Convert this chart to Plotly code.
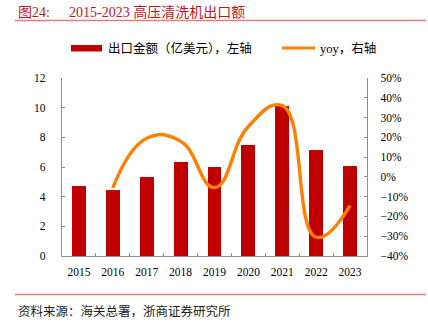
import plotly.graph_objects as go

years = ["2015", "2016", "2017", "2018", "2019", "2020", "2021", "2022", "2023"]
export_value = [4.70, 4.47, 5.35, 6.32, 5.98, 7.48, 10.11, 7.13, 6.09]
yoy_years = ["2016", "2017", "2018", "2019", "2020", "2021", "2022", "2023"]
yoy_pct = [-5.5, 19.5, 18.0, -5.4, 25.5, 36.0, -30.5, -14.5]

title_text = "图24:"
title_main = "2015-2023 高压清洗机出口额"
bar_name = "出口金额（亿美元），左轴"
line_name = "yoy，右轴"
source_text = "资料来源：海关总署，浙商证券研究所"

W, H = 428, 325
L, R, T, B = 62, 367, 78, 256
PW, PH = R - L, B - T

def px(x):
    return (x - L) / PW

def py(y):
    return (B - y) / PH

FONT = "Liberation Serif, Noto Sans CJK SC, serif"
BAR_C = "#C00000"
LINE_C = "#FF8000"
AX_C = "#8C8C8C"

fig = go.Figure()
fig.add_trace(go.Bar(x=years, y=export_value, marker=dict(color=BAR_C, line=dict(width=0)),
                     width=0.41, name=bar_name, showlegend=False))
fig.add_trace(go.Scatter(x=yoy_years, y=yoy_pct, yaxis="y2", mode="lines",
                         line=dict(color=LINE_C, width=3.4, shape="spline", smoothing=1.3),
                         name=line_name, showlegend=False))

tickfont = dict(family=FONT, size=11.5, color="#000000")
fig.update_layout(
    width=W, height=H,
    margin=dict(l=L, r=W - R, t=T, b=H - B, pad=0),
    paper_bgcolor="white", plot_bgcolor="white",
    bargap=0,
    xaxis=dict(type="category", showline=True, linecolor=AX_C, linewidth=1.3,
               ticks="inside", tickson="boundaries", ticklen=3, tickcolor=AX_C,
               showgrid=False, tickfont=tickfont, ticklabelstandoff=5, zeroline=False),
    yaxis=dict(range=[0, 12], dtick=2, showline=True, linecolor=AX_C, linewidth=1.3,
               ticks="inside", ticklen=3, tickcolor=AX_C, showgrid=False,
               zeroline=False, tickfont=tickfont, ticklabelstandoff=13),
    yaxis2=dict(range=[-40, 50], dtick=10, overlaying="y", side="right", ticksuffix="%",
                showline=True, linecolor=AX_C, linewidth=1.3, ticks="inside", ticklen=3,
                tickcolor=AX_C, showgrid=False, zeroline=False, tickfont=tickfont,
                ticklabelstandoff=10),
    showlegend=False,
)

shapes = [
    dict(type="line", xref="paper", yref="paper", x0=px(15), x1=px(426), y0=py(20.5), y1=py(20.5),
         line=dict(color="#E27D7D", width=1.5)),
    dict(type="line", xref="paper", yref="paper", x0=px(15), x1=px(426), y0=py(294.5), y1=py(294.5),
         line=dict(color="#E27D7D", width=1.5)),
    dict(type="rect", xref="paper", yref="paper", x0=px(71), x1=px(102), y0=py(51.5), y1=py(45),
         fillcolor=BAR_C, line=dict(width=0)),
    dict(type="line", xref="paper", yref="paper", x0=px(282), x1=px(315), y0=py(48), y1=py(48),
         line=dict(color=LINE_C, width=3)),
]
fig.update_layout(shapes=shapes)

annos = [
    dict(text=title_text, x=px(16), y=py(12), xanchor="left", yanchor="middle",
         font=dict(family=FONT, size=14, color="#C0141E")),
    dict(text=title_main, x=px(67), y=py(12), xanchor="left", yanchor="middle",
         font=dict(family=FONT, size=14, color="#C0141E")),
    dict(text=bar_name, x=px(106), y=py(48), xanchor="left", yanchor="middle",
         font=dict(family=FONT, size=12.5, color="#000000")),
    dict(text=line_name, x=px(318), y=py(48), xanchor="left", yanchor="middle",
         font=dict(family=FONT, size=12.5, color="#000000")),
    dict(text=source_text, x=px(16), y=py(311), xanchor="left", yanchor="middle",
         font=dict(family=FONT, size=12.5, color="#222222")),
]
for a in annos:
    a.update(xref="paper", yref="paper", showarrow=False)
fig.update_layout(annotations=annos)

fig.write_html("out.html")
